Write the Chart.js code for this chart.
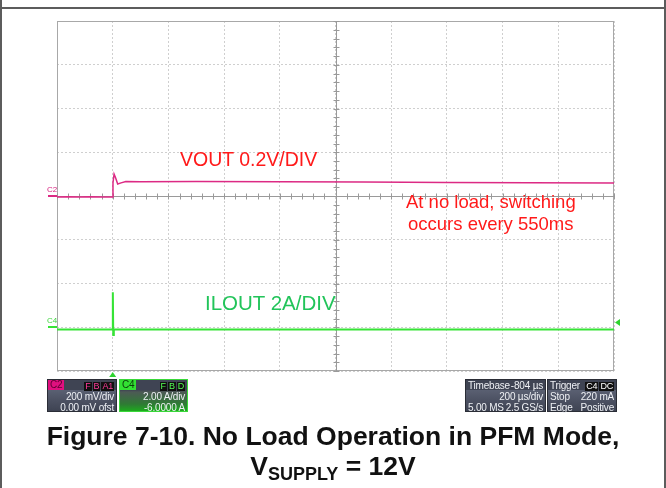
<!DOCTYPE html>
<html>
<head>
<meta charset="utf-8">
<script src="https://cdn.jsdelivr.net/npm/chart.js@4/dist/chart.umd.min.js"></script>
<style>
  html, body { margin: 0; padding: 0; background: #fff; }
  body { width: 666px; height: 488px; position: relative; overflow: hidden; font-family: "Liberation Sans", Arial, sans-serif; }
  .rule { position: absolute; background: #5c5c5c; }
  #scope { position: absolute; left: 0; top: 0; }
  .note { position: absolute; font-size: 18.5px; white-space: nowrap; line-height: 22px; }
  .chlabel { position: absolute; font-size: 8px; line-height: 8px; }
  .box { position: absolute; top: 379px; height: 33px; background: linear-gradient(#3f4453 0, #3f4453 10px, #5a6072 10px, #4b5061 21px, #3c4150 33px); border: 1px solid #2a2d36; box-sizing: border-box; color: #eef0f4; font-size: 10px; line-height: 11px; letter-spacing: -0.2px; }
  .row { height: 11px; display: flex; justify-content: space-between; padding: 0 2px 0 2px; white-space: nowrap; }
  .tag { display: inline-block; padding: 0 2px; line-height: 10px; height: 10px; }
  .badge { display: inline-block; background: #111; padding: 0 1px; margin-left: 1px; line-height: 9px; height: 9px; font-size: 9px; }
  #caption { position: absolute; left: 0; width: 666px; top: 421px; text-align: center; font-weight: bold; font-size: 26.5px; line-height: 30px; color: #111; }
  #caption sub { font-size: 18px; vertical-align: -5px; line-height: 0; }
</style>
</head>
<body>
<div class="rule" style="left:0;top:0;width:2px;height:488px"></div>
<div class="rule" style="left:664px;top:0;width:2px;height:488px"></div>
<div class="rule" style="left:0;top:7px;width:666px;height:2px"></div>

<canvas id="scope" width="666" height="488"></canvas>

<div class="note" style="left:180px;top:148px;font-size:19.5px;color:#ff1a1a">VOUT 0.2V/DIV</div>
<div class="note" style="left:406px;top:191px;color:#ff1a1a">At no load, switching</div>
<div class="note" style="left:408px;top:213px;color:#ff1a1a">occurs every 550ms</div>
<div class="note" style="left:205px;top:292px;font-size:20.5px;color:#22c45a">ILOUT 2A/DIV</div>

<div class="chlabel" style="left:47px;top:186px;color:#d6207f">C2</div>
<div class="chlabel" style="left:47px;top:317px;color:#3fd63f">C4</div>

<!-- channel / timebase readouts -->
<div class="box" style="left:47px;width:70px">
  <div class="row" style="padding-left:0"><span class="tag" style="background:#e0107f;color:#5a0030">C2</span><span><span class="badge" style="color:#ff3a9a">F</span><span class="badge" style="color:#ff3a9a">B</span><span class="badge" style="color:#ff3a9a">A1</span></span></div>
  <div class="row" style="justify-content:flex-end">200 mV/div</div>
  <div class="row" style="justify-content:flex-end">0.00 mV ofst</div>
</div>
<div class="box" style="left:119px;width:69px;border-color:#39d839;background:linear-gradient(#3f4453 0, #3f4453 10px, #4d5a55 12px, #2f7a34 24px, #18b818 33px)">
  <div class="row" style="padding-left:0"><span class="tag" style="background:#33e033;color:#0a400a">C4</span><span><span class="badge" style="color:#55ff55">F</span><span class="badge" style="color:#55ff55">B</span><span class="badge" style="color:#55ff55">D</span></span></div>
  <div class="row" style="justify-content:flex-end">2.00 A/div</div>
  <div class="row" style="justify-content:flex-end">-6.0000 A</div>
</div>
<div class="box" style="left:465px;width:81px">
  <div class="row"><span>Timebase</span><span>-804 µs</span></div>
  <div class="row" style="justify-content:flex-end">200 µs/div</div>
  <div class="row"><span>5.00 MS</span><span>2.5 GS/s</span></div>
</div>
<div class="box" style="left:547px;width:70px">
  <div class="row"><span>Trigger</span><span><span class="badge" style="color:#fff">C4</span><span class="badge" style="color:#fff">DC</span></span></div>
  <div class="row"><span>Stop</span><span>220 mA</span></div>
  <div class="row"><span>Edge</span><span>Positive</span></div>
</div>

<div id="caption">Figure 7-10. No Load Operation in PFM Mode,<br>V<sub>SUPPLY</sub> = 12V</div>

<script>
// time axis: 200 us/div, trigger at 0, 10 divisions
const timeMin = -200;
const timeMax = 1800;
const timePerDiv = 200;

// C2 VOUT, 200 mV/div, 0 mV offset
const voutTime = [-200, -160, -120, -80, -40, -1, 1, 5, 10, 18, 30, 47, 100, 300, 600, 900, 1200, 1500, 1800];
const voutMv   = [-5, -4, -5, -4, -5, -5, 60, 100, 85, 55, 60, 66, 65, 66, 65, 64, 62, 61, 59];

// C4 ILOUT, 2 A/div, -6 A offset
const iloutTime = [-200, -1, 0, 1, 2, 4, 1800];
const iloutA    = [-0.1, -0.1, 1.6, 1.6, -0.35, -0.1, -0.1];

const triggerTime = 0;
const triggerLevelA = 0.22;

const C2_COLOR = "#dc2a84";
const C4_COLOR = "#36e336";

function toPoints(xs, ys) {
  return xs.map((x, i) => ({ x: x, y: ys[i] }));
}

// frame, centre axes with minor ticks, channel ground markers, trigger markers
const scopeDecor = {
  id: "scopeDecor",
  beforeDatasetsDraw(chart) {
    const { ctx, chartArea: a, scales } = chart;
    const x = scales.x, yV = scales.yV;
    ctx.save();
    ctx.strokeStyle = "#a8a8a8";
    ctx.lineWidth = 1;
    ctx.strokeRect(a.left + 0.5, a.top + 0.5, a.right - a.left - 1, a.bottom - a.top - 1);

    const cx = Math.round(x.getPixelForValue((timeMin + timeMax) / 2)) + 0.5;
    const cy = Math.round(yV.getPixelForValue(0)) + 0.5;
    ctx.strokeStyle = "#9a9a9a";
    ctx.beginPath();
    ctx.moveTo(cx, a.top); ctx.lineTo(cx, a.bottom);
    ctx.moveTo(a.left, cy); ctx.lineTo(a.right, cy);
    for (let t = timeMin; t <= timeMax; t += timePerDiv / 5) {
      const px = Math.round(x.getPixelForValue(t)) + 0.5;
      ctx.moveTo(px, cy - 3); ctx.lineTo(px, cy + 3);
    }
    for (let v = -800; v <= 800; v += 40) {
      const py = Math.round(yV.getPixelForValue(v)) + 0.5;
      ctx.moveTo(cx - 3, py); ctx.lineTo(cx + 3, py);
    }
    ctx.stroke();
    ctx.restore();
  },
  afterDatasetsDraw(chart) {
    const { ctx, chartArea: a, scales } = chart;
    ctx.save();
    // ground markers at left edge
    ctx.lineWidth = 2;
    const g2 = Math.round(scales.yV.getPixelForValue(0));
    ctx.strokeStyle = C2_COLOR;
    ctx.beginPath(); ctx.moveTo(a.left - 9, g2); ctx.lineTo(a.left, g2); ctx.stroke();
    const g4 = Math.round(scales.yI.getPixelForValue(0));
    ctx.strokeStyle = C4_COLOR;
    ctx.beginPath(); ctx.moveTo(a.left - 9, g4); ctx.lineTo(a.left, g4); ctx.stroke();

    // trigger position (bottom) and trigger level (right)
    ctx.fillStyle = "#2fd42f";
    const tx = scales.x.getPixelForValue(triggerTime);
    ctx.beginPath();
    ctx.moveTo(tx, a.bottom + 1); ctx.lineTo(tx + 3.5, a.bottom + 6); ctx.lineTo(tx - 3.5, a.bottom + 6);
    ctx.closePath(); ctx.fill();
    const ty = scales.yI.getPixelForValue(triggerLevelA);
    ctx.beginPath();
    ctx.moveTo(a.right + 1, ty); ctx.lineTo(a.right + 6, ty - 3.5); ctx.lineTo(a.right + 6, ty + 3.5);
    ctx.closePath(); ctx.fill();
    ctx.restore();
  }
};

const gridStyle = {
  color: "#cfcfcf",
  lineWidth: 1,
  drawTicks: false
};

new Chart(document.getElementById("scope"), {
  type: "scatter",
  data: {
    datasets: [
      {
        label: "VOUT",
        data: toPoints(voutTime, voutMv),
        yAxisID: "yV",
        showLine: true,
        borderColor: C2_COLOR,
        borderWidth: 1.5,
        pointRadius: 0,
        tension: 0
      },
      {
        label: "ILOUT",
        data: toPoints(iloutTime, iloutA),
        yAxisID: "yI",
        showLine: true,
        borderColor: C4_COLOR,
        borderWidth: 2,
        pointRadius: 0,
        tension: 0
      }
    ]
  },
  options: {
    responsive: false,
    animation: false,
    layout: { padding: { left: 57, top: 21, right: 52, bottom: 117 } },
    plugins: {
      legend: { display: false },
      tooltip: { enabled: false }
    },
    scales: {
      x: {
        type: "linear",
        min: timeMin,
        max: timeMax,
        ticks: { stepSize: timePerDiv, display: false },
        grid: gridStyle,
        border: { display: false, dash: [2, 2] }
      },
      yV: {
        type: "linear",
        position: "left",
        min: -800,
        max: 800,
        ticks: { stepSize: 200, display: false },
        grid: gridStyle,
        border: { display: false, dash: [2, 2] }
      },
      yI: {
        type: "linear",
        position: "right",
        display: false,
        min: -2,
        max: 14
      }
    }
  },
  plugins: [scopeDecor]
});
</script>
</body>
</html>
